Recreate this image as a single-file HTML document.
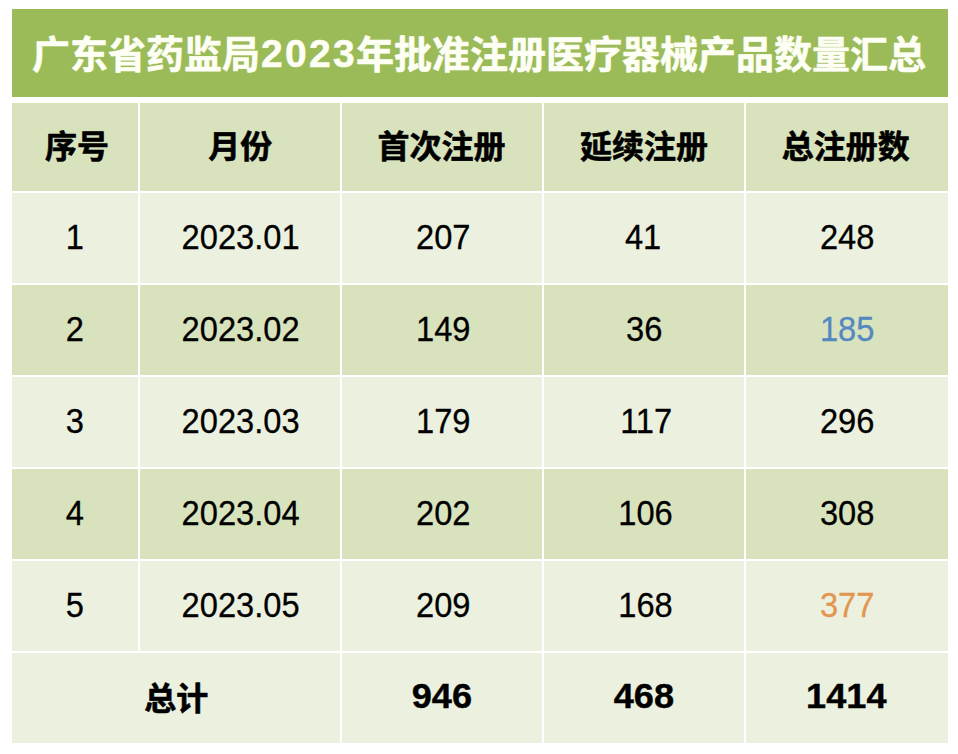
<!DOCTYPE html>
<html lang="zh-CN">
<head>
<meta charset="utf-8">
<title>广东省药监局2023年批准注册医疗器械产品数量汇总</title>
<style>
html,body{margin:0;padding:0;background:#fff;}
body{width:958px;height:754px;position:relative;overflow:hidden;font-family:"Liberation Sans",sans-serif;}
.c{position:absolute;box-sizing:border-box;display:flex;align-items:center;justify-content:center;white-space:nowrap;overflow:hidden;}
.title{left:12px;top:9px;width:936px;height:88px;background:#9bbb59;}
.h{background:#d8e3bd;font-weight:bold;}
.d{background:#d8e3bd;}
.l{background:#ecf0df;}
.n{display:inline-block;font-size:35.6px;line-height:1;color:#000;-webkit-text-stroke:0.3px currentColor;transform:translate(var(--dx,0px),-0.3px) scaleX(0.9175);}
.b{display:inline-block;font-size:35.8px;line-height:1;color:#000;font-weight:bold;-webkit-text-stroke:0.4px #000;transform:translate(var(--dx,0px),-1.4px) scaleX(1.01);}
.y{position:absolute;left:249px;top:25px;font-size:39px;line-height:1;font-weight:bold;color:#fdfef4;letter-spacing:2.35px;-webkit-text-stroke:0.5px #fdfef4;transform-origin:0 0;transform:scaleX(1.0);}
.blue{color:#5588c0;}
.orange{color:#e2964f;}
svg.g{position:absolute;left:0;top:0;width:958px;height:754px;pointer-events:none;}
svg.g text{font-family:"Liberation Sans","Noto Sans CJK SC",sans-serif;font-weight:bold;stroke-linejoin:round;}
</style>
</head>
<body>
<div class="c title"><span class="y">2023</span></div>
<div class="c h" style="left:12px;top:103px;width:126px;height:88px"></div>
<div class="c h" style="left:140px;top:103px;width:200px;height:88px"></div>
<div class="c h" style="left:342px;top:103px;width:200px;height:88px"></div>
<div class="c h" style="left:544px;top:103px;width:200px;height:88px"></div>
<div class="c h" style="left:746px;top:103px;width:202px;height:88px"></div>
<div class="c l" style="left:12px;top:193px;width:126px;height:90px"><span class="n" style="--dx:0px">1</span></div>
<div class="c l" style="left:140px;top:193px;width:200px;height:90px"><span class="n" style="--dx:0.3px">2023.01</span></div>
<div class="c l" style="left:342px;top:193px;width:200px;height:90px"><span class="n" style="--dx:1.6px">207</span></div>
<div class="c l" style="left:544px;top:193px;width:200px;height:90px"><span class="n" style="--dx:-0.7px">41</span></div>
<div class="c l" style="left:746px;top:193px;width:202px;height:90px"><span class="n" style="--dx:0.5px">248</span></div>
<div class="c d" style="left:12px;top:285px;width:126px;height:90px"><span class="n" style="--dx:0px">2</span></div>
<div class="c d" style="left:140px;top:285px;width:200px;height:90px"><span class="n" style="--dx:0.3px">2023.02</span></div>
<div class="c d" style="left:342px;top:285px;width:200px;height:90px"><span class="n" style="--dx:1.6px">149</span></div>
<div class="c d" style="left:544px;top:285px;width:200px;height:90px"><span class="n" style="--dx:0.4px">36</span></div>
<div class="c d" style="left:746px;top:285px;width:202px;height:90px"><span class="n blue" style="--dx:0.5px">185</span></div>
<div class="c l" style="left:12px;top:377px;width:126px;height:90px"><span class="n" style="--dx:0px">3</span></div>
<div class="c l" style="left:140px;top:377px;width:200px;height:90px"><span class="n" style="--dx:0.3px">2023.03</span></div>
<div class="c l" style="left:342px;top:377px;width:200px;height:90px"><span class="n" style="--dx:1.6px">179</span></div>
<div class="c l" style="left:544px;top:377px;width:200px;height:90px"><span class="n" style="--dx:1.8px">117</span></div>
<div class="c l" style="left:746px;top:377px;width:202px;height:90px"><span class="n" style="--dx:0.5px">296</span></div>
<div class="c d" style="left:12px;top:469px;width:126px;height:90px"><span class="n" style="--dx:0px">4</span></div>
<div class="c d" style="left:140px;top:469px;width:200px;height:90px"><span class="n" style="--dx:0.3px">2023.04</span></div>
<div class="c d" style="left:342px;top:469px;width:200px;height:90px"><span class="n" style="--dx:1.6px">202</span></div>
<div class="c d" style="left:544px;top:469px;width:200px;height:90px"><span class="n" style="--dx:1.8px">106</span></div>
<div class="c d" style="left:746px;top:469px;width:202px;height:90px"><span class="n" style="--dx:0.5px">308</span></div>
<div class="c l" style="left:12px;top:561px;width:126px;height:90px"><span class="n" style="--dx:0px">5</span></div>
<div class="c l" style="left:140px;top:561px;width:200px;height:90px"><span class="n" style="--dx:0.3px">2023.05</span></div>
<div class="c l" style="left:342px;top:561px;width:200px;height:90px"><span class="n" style="--dx:1.6px">209</span></div>
<div class="c l" style="left:544px;top:561px;width:200px;height:90px"><span class="n" style="--dx:1.8px">168</span></div>
<div class="c l" style="left:746px;top:561px;width:202px;height:90px"><span class="n orange" style="--dx:0.5px">377</span></div>
<div class="c l" style="left:12px;top:653px;width:328px;height:90px"></div>
<div class="c l" style="left:342px;top:653px;width:200px;height:90px"><span class="b" style="--dx:0px">946</span></div>
<div class="c l" style="left:544px;top:653px;width:200px;height:90px"><span class="b" style="--dx:0px">468</span></div>
<div class="c l" style="left:746px;top:653px;width:202px;height:90px"><span class="b" style="--dx:-0.5px">1414</span></div>
<svg class="g" viewBox="0 0 958 754">
<text x="31.97" y="68.30" font-size="38" fill="#fdfef4" stroke="#fdfef4" stroke-width="0.6">广东省药监局</text>
<text x="355.99" y="68.30" font-size="38" fill="#fdfef4" stroke="#fdfef4" stroke-width="0.6">年批准注册医疗器械产品数量汇总</text>
<text x="45.01" y="157.80" font-size="32" fill="#000" stroke="#000" stroke-width="0.6">序号</text>
<text x="208.37" y="157.80" font-size="32" fill="#000" stroke="#000" stroke-width="0.6">月份</text>
<text x="377.58" y="157.80" font-size="32" fill="#000" stroke="#000" stroke-width="0.6">首次注册</text>
<text x="579.99" y="157.80" font-size="32" fill="#000" stroke="#000" stroke-width="0.6">延续注册</text>
<text x="781.79" y="157.80" font-size="32" fill="#000" stroke="#000" stroke-width="0.6">总注册数</text>
<text x="144.33" y="709.90" font-size="32" fill="#000" stroke="#000" stroke-width="0.6">总计</text>
</svg>
</body>
</html>
